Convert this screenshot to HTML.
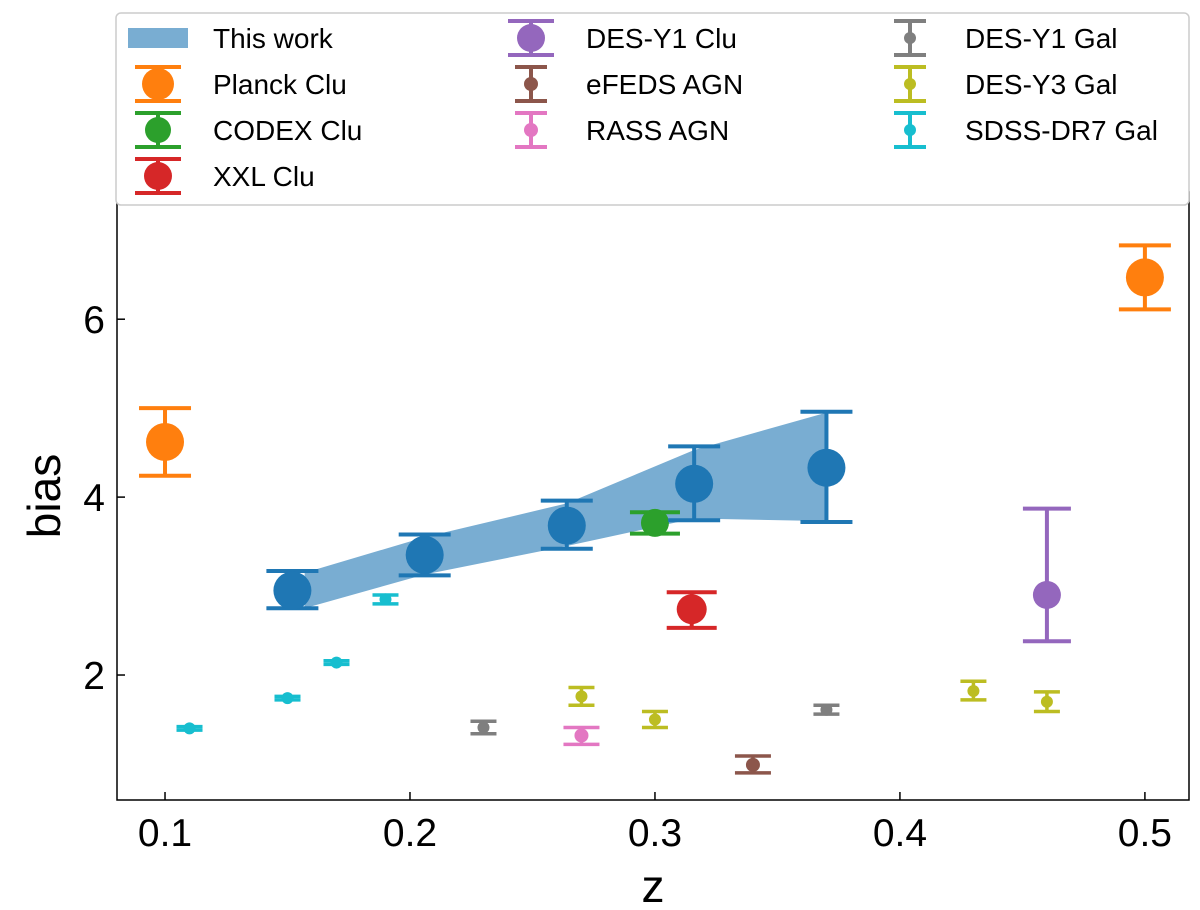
<!DOCTYPE html>
<html><head><meta charset="utf-8"><style>
html,body{margin:0;padding:0;background:#fff;}
svg{display:block;font-family:"Liberation Sans","DejaVu Sans",sans-serif;}
</style></head><body>
<svg id="chart" width="1200" height="910" viewBox="0 0 1200 910">
<g id="plot"></g>
<g id="legend"></g>
</svg>
<script>
// ---- data ----
const workZ = [0.152, 0.206, 0.264, 0.316, 0.370];
const workB = [2.95, 3.35, 3.68, 4.15, 4.33];
const workLo = [2.75, 3.12, 3.42, 3.74, 3.72];
const workHi = [3.17, 3.58, 3.96, 4.57, 4.96];
const bandZ = [0.157, 0.206, 0.264, 0.316, 0.370];
const bandLo = [2.75, 3.13, 3.45, 3.76, 3.73];
const bandHi = [3.15, 3.55, 3.93, 4.53, 4.95];
const planckZ = [0.1, 0.5], planckB = [4.62, 6.47], planckLo = [4.24, 6.11], planckHi = [5.0, 6.83];
const codexZ = [0.3], codexB = [3.71], codexLo = [3.59], codexHi = [3.83];
const xxlZ = [0.315], xxlB = [2.74], xxlLo = [2.53], xxlHi = [2.93];
const desClZ = [0.46], desClB = [2.9], desClLo = [2.38], desClHi = [3.87];
const efedsZ = [0.34], efedsB = [0.99], efedsLo = [0.90], efedsHi = [1.09];
const rassZ = [0.27], rassB = [1.32], rassLo = [1.22], rassHi = [1.41];
const desY1Z = [0.23, 0.37], desY1B = [1.41, 1.61], desY1Lo = [1.34, 1.56], desY1Hi = [1.48, 1.66];
const desY3Z = [0.27, 0.30, 0.43, 0.46], desY3B = [1.76, 1.50, 1.82, 1.70], desY3Lo = [1.66, 1.41, 1.72, 1.59], desY3Hi = [1.86, 1.59, 1.93, 1.81];
const sdssZ = [0.11, 0.15, 0.17, 0.19], sdssB = [1.40, 1.74, 2.14, 2.85], sdssLo = [1.38, 1.72, 2.12, 2.80], sdssHi = [1.42, 1.76, 2.16, 2.90];
const xTicks = [0.1, 0.2, 0.3, 0.4, 0.5];
const xTickLabels = ["0.1", "0.2", "0.3", "0.4", "0.5"];
const yTicks = [2, 4, 6];
const yTickLabels = ["2", "4", "6"];

// ---- axes ----
const L = 117, R = 1189, T = 192, B = 800;
const xMin = 0.0804, xMax = 0.518, yMin = 0.595, yMax = 7.43;
const X = v => L + (v - xMin) / (xMax - xMin) * (R - L);
const Y = v => B - (v - yMin) / (yMax - yMin) * (B - T);
const NS = "http://www.w3.org/2000/svg";
const plot = document.getElementById('plot');
const legend = document.getElementById('legend');
function mk(tag, attrs, parent) {
  const e = document.createElementNS(NS, tag);
  for (const k in attrs) e.setAttribute(k, attrs[k]);
  parent.appendChild(e); return e;
}

// band
let pts = bandZ.map((z, i) => X(z) + ',' + Y(bandHi[i]));
pts = pts.concat(bandZ.slice().reverse().map((z, j) => { const i = bandZ.length - 1 - j; return X(z) + ',' + Y(bandLo[i]); }));
const band = mk('polygon', {points: pts.join(' '), fill: '#1f77b4', 'fill-opacity': 0.6}, plot);



function series(name, zs, bs, lo, hi, color, r, cap, lw) {
  const g = mk('g', {}, plot);
  
  
  zs.forEach((z, i) => {
    const x = X(z);
    mk('line', {x1: x, x2: x, y1: Y(lo[i]), y2: Y(hi[i]), stroke: color, 'stroke-width': lw}, g);
    mk('line', {x1: x - cap, x2: x + cap, y1: Y(lo[i]), y2: Y(lo[i]), stroke: color, 'stroke-width': lw}, g);
    mk('line', {x1: x - cap, x2: x + cap, y1: Y(hi[i]), y2: Y(hi[i]), stroke: color, 'stroke-width': lw}, g);
    const c = mk('circle', {cx: x, cy: Y(bs[i]), r: r, fill: color}, g);
    
    
  });
}
series('sdss-dr7-gal', sdssZ, sdssB, sdssLo, sdssHi, '#17becf', 6, 13, 3.5);
series('des-y3-gal', desY3Z, desY3B, desY3Lo, desY3Hi, '#bcbd22', 6, 13, 3.5);
series('des-y1-gal', desY1Z, desY1B, desY1Lo, desY1Hi, '#7f7f7f', 6, 13, 3.5);
series('rass-agn', rassZ, rassB, rassLo, rassHi, '#e377c2', 7, 18, 3.5);
series('efeds-agn', efedsZ, efedsB, efedsLo, efedsHi, '#8c564b', 7, 18, 3.5);
series('des-y1-clu', desClZ, desClB, desClLo, desClHi, '#9467bd', 14, 24, 4);
series('xxl-clu', xxlZ, xxlB, xxlLo, xxlHi, '#d62728', 15, 25, 4);
series('codex-clu', codexZ, codexB, codexLo, codexHi, '#2ca02c', 14, 25, 4);
series('planck-clu', planckZ, planckB, planckLo, planckHi, '#ff7f0e', 19, 26, 4);
series('this-work', workZ, workB, workLo, workHi, '#1f77b4', 19, 26, 4);

// frame
const fr = mk('rect', {x: L, y: T, width: R - L, height: B - T, fill: 'none', stroke: '#000', 'stroke-width': 1.5}, plot);


xTicks.forEach((v, i) => {
  const x = X(v);
  mk('line', {x1: x, x2: x, y1: B, y2: B - 8, stroke: '#000', 'stroke-width': 1.5}, plot);
  const t = mk('text', {x: x, y: B + 46, 'font-size': 39, 'text-anchor': 'middle', fill: '#000'}, plot);
  t.textContent = xTickLabels[i];
  
  
});
yTicks.forEach((v, i) => {
  const y = Y(v);
  mk('line', {x1: L, x2: L + 8, y1: y, y2: y, stroke: '#000', 'stroke-width': 1.5}, plot);
  const t = mk('text', {x: L - 12, y: y + 14, 'font-size': 39, 'text-anchor': 'end', fill: '#000'}, plot);
  t.textContent = yTickLabels[i];
  
  
});
const xl = mk('text', {x: (L + R) / 2, y: 902, 'font-size': 46, 'text-anchor': 'middle'}, plot);
xl.textContent = 'z';


const yl = mk('text', {x: 0, y: 0, 'font-size': 46, 'text-anchor': 'middle', transform: 'translate(60,' + (T + B) / 2 + ') rotate(-90)'}, plot);
yl.textContent = 'bias';



// legend
const lb = mk('rect', {x: 116, y: 13, width: 1073, height: 192, rx: 5, fill: '#fff', stroke: '#ccc', 'stroke-width': 1.5}, legend);


const entries = [
  ['This work', '#1f77b4', 'band', 0, 0], ['Planck Clu', '#ff7f0e', 16, 0, 1], ['CODEX Clu', '#2ca02c', 13, 0, 2], ['XXL Clu', '#d62728', 14, 0, 3],
  ['DES-Y1 Clu', '#9467bd', 14, 1, 0], ['eFEDS AGN', '#8c564b', 7, 1, 1], ['RASS AGN', '#e377c2', 7, 1, 2],
  ['DES-Y1 Gal', '#7f7f7f', 6, 2, 0], ['DES-Y3 Gal', '#bcbd22', 6, 2, 1], ['SDSS-DR7 Gal', '#17becf', 6, 2, 2]
];
const colX = [158, 531, 910];
entries.forEach(e => {
  const g = mk('g', {}, legend);
  
  
  const cx = colX[e[3]], cy = 38 + e[4] * 46;
  if (e[2] === 'band') {
    mk('rect', {x: cx - 30, y: cy - 10, width: 60, height: 20, fill: e[1], 'fill-opacity': 0.6}, g);
  } else {
    const r = e[2], cap = r > 10 ? 23 : 16;
    mk('line', {x1: cx, x2: cx, y1: cy - 17, y2: cy + 17, stroke: e[1], 'stroke-width': 4}, g);
    mk('line', {x1: cx - cap, x2: cx + cap, y1: cy - 17, y2: cy - 17, stroke: e[1], 'stroke-width': 4}, g);
    mk('line', {x1: cx - cap, x2: cx + cap, y1: cy + 17, y2: cy + 17, stroke: e[1], 'stroke-width': 4}, g);
    mk('circle', {cx: cx, cy: cy, r: r, fill: e[1]}, g);
  }
  const t = mk('text', {x: cx + 55, y: cy + 10, 'font-size': 28, fill: '#000'}, g);
  t.textContent = e[0];
});
</script>
</body></html>
